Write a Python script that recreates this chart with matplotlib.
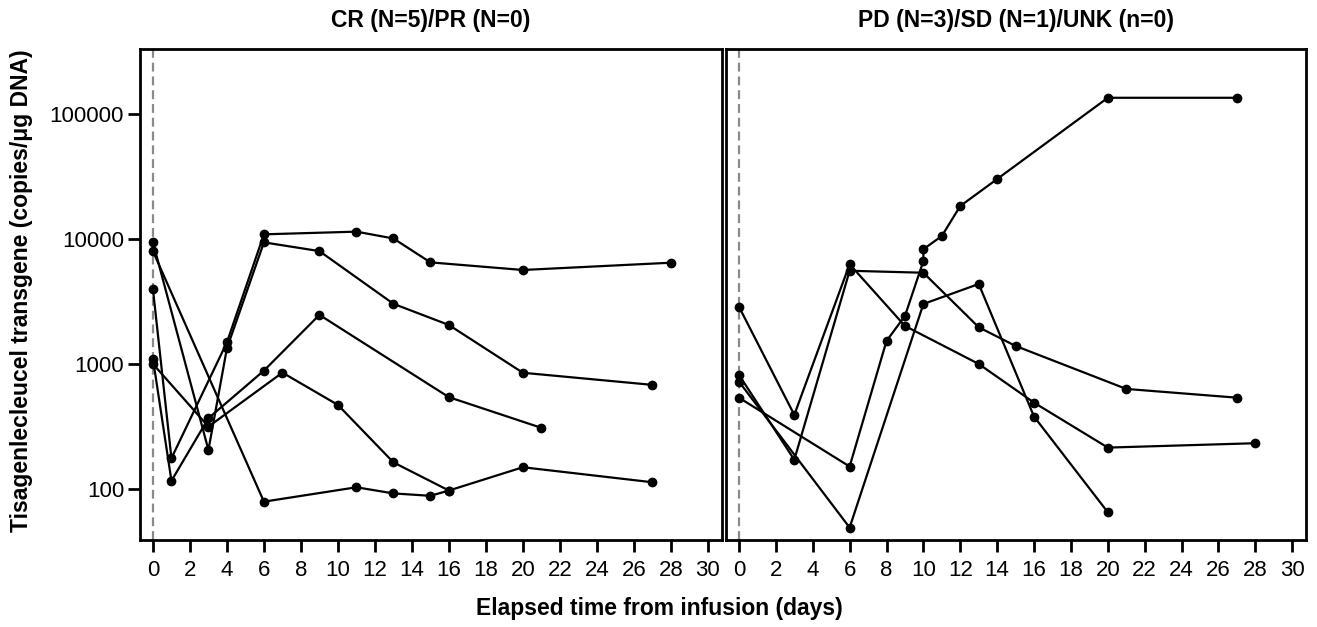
import matplotlib
matplotlib.use("Agg")
import matplotlib.pyplot as plt

plt.rcParams['font.family'] = ['Liberation Sans', 'DejaVu Sans']

# --- data (copies/ug DNA) ---
# CR/PR panel, one list pair per patient
cr_days = [
    [0, 3, 4, 6, 9, 13, 16, 20, 27],
    [0, 1, 4, 6, 11, 13, 15, 20, 28],
    [0, 6, 11, 13, 15, 16, 20, 27],
    [0, 1, 3, 6, 9, 16, 21],
    [0, 3, 7, 10, 13, 16],
]
cr_vals = [
    [9400, 205, 1336, 9400, 8000, 3030, 2050, 850, 680],
    [3960, 176, 1490, 10900, 11450, 10100, 6500, 5650, 6460],
    [8000, 79, 103, 92, 88, 97, 149, 113],
    [1100, 116, 368, 884, 2470, 542, 308],
    [1000, 315, 852, 470, 163, 97],
]

# PD/SD/UNK panel
pd_days = [
    [0, 3, 6, 9, 13, 16, 20, 28],
    [0, 3, 6, 10, 13, 15, 21, 27],
    [0, 6, 10, 13, 16, 20],
    [0, 6, 8, 9, 10, 10, 11, 12, 14, 20, 27],
]
pd_vals = [
    [2870, 391, 6280, 2014, 1000, 490, 214, 232],
    [817, 171, 5570, 5370, 1966, 1393, 631, 537],
    [722, 49, 3020, 4365, 379, 65],
    [537, 151, 1528, 2421, 6670, 8280, 10570, 18370, 30200, 135000, 135000],
]

titles = ["CR (N=5)/PR (N=0)", "PD (N=3)/SD (N=1)/UNK (n=0)"]
xticks = list(range(0, 31, 2))
yticks = [100, 1000, 10000, 100000]

fig = plt.figure(figsize=(13.17, 6.27), dpi=100)
ax1 = fig.add_axes([0.1063, 0.1388, 0.4417, 0.7826])
ax2 = fig.add_axes([0.5513, 0.1388, 0.4404, 0.7826], sharey=ax1)

for ax, days, vals, title in [(ax1, cr_days, cr_vals, titles[0]),
                              (ax2, pd_days, pd_vals, titles[1])]:
    ax.axvline(0, color='#8a8a8a', ls=(0, (4, 2.2)), lw=1.6, zorder=1)
    for d, v in zip(days, vals):
        ax.plot(d, v, '-o', color='black', lw=1.6, ms=6, zorder=3)
    ax.set_yscale('log')
    ax.set_ylim(39, 330000)
    ax.set_xlim(-0.7, 30.75)
    ax.set_xticks(xticks)
    ax.set_xticklabels([str(t) for t in xticks], fontsize=16)
    ax.set_title(title, fontsize=16.5, fontweight='bold', pad=16)
    for s in ax.spines.values():
        s.set_linewidth(2)
    ax.tick_params(axis='x', length=8.5, width=2, pad=6)
    ax.minorticks_off()

ax1.set_yticks(yticks)
ax1.set_yticklabels([str(t) for t in yticks], fontsize=16)
ax1.tick_params(axis='y', length=8.5, width=2, pad=3)
ax1.minorticks_off()
ax2.tick_params(axis='y', left=False, labelleft=False)
ax2.minorticks_off()

fig.text(0.0165, 0.537, "Tisagenlecleucel transgene (copies/μg DNA)",
         rotation=90, ha='center', va='center', fontsize=16.5, fontweight='bold')
fig.text(0.501, 0.03, "Elapsed time from infusion (days)",
         ha='center', va='center', fontsize=16.5, fontweight='bold')

fig.savefig("out.png", dpi=100)
